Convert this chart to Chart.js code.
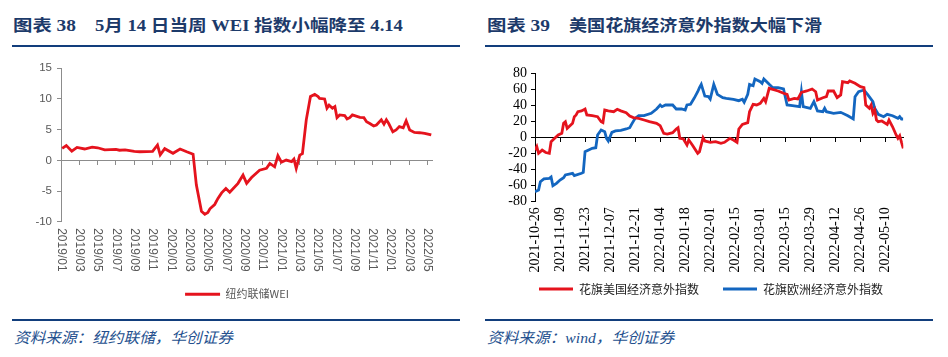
<!DOCTYPE html>
<html><head><meta charset="utf-8">
<script src="https://cdn.jsdelivr.net/npm/chart.js@4.4.0/dist/chart.umd.min.js"></script>
<style>
html,body{margin:0;padding:0;background:#fff;}
#page{position:relative;width:948px;height:357px;overflow:hidden;background:#fff;}
.t{position:absolute;top:16px;display:inline-block;font-weight:bold;font-size:16px;font-family:"Liberation Serif","Noto Sans CJK SC",serif;color:#1C3A6A;white-space:pre;line-height:20px;transform-origin:0 50%;}
.rule{position:absolute;height:2px;background:#123E7C;}
.src{position:absolute;top:328px;display:inline-block;font-style:italic;font-size:15px;font-family:"Liberation Serif","Noto Sans CJK SC",serif;color:#24508E;white-space:pre;line-height:20px;transform-origin:0 50%;}
canvas{position:absolute;top:50px;}
</style></head>
<body><div id="page">
<span class="t" style="left:13px" data-w="63">图表 38</span>
<span class="t" style="left:95px" data-w="308">5月 14 日当周 WEI 指数小幅降至 4.14</span>
<span class="t" style="left:487px" data-w="63">图表 39</span>
<span class="t" style="left:569px" data-w="253">美国花旗经济意外指数大幅下滑</span>
<div class="rule" style="left:12px;top:45px;width:448px"></div>
<div class="rule" style="left:485px;top:45px;width:448px"></div>
<canvas id="c1" width="474" height="265" style="left:0"></canvas>
<canvas id="c2" width="474" height="265" style="left:474px"></canvas>
<div class="rule" style="left:12px;top:319px;width:448px"></div>
<div class="rule" style="left:485px;top:319px;width:448px"></div>
<span class="src" style="left:14px" data-w="219">资料来源：纽约联储，华创证券</span>
<span class="src" style="left:487px" data-w="187">资料来源：wind，华创证券</span>
</div>
<script>
// ---------- Chart 38: NY Fed Weekly Economic Index ----------
const weiDates = [
 '2019-01-05','2019-01-19','2019-02-06','2019-02-22','2019-03-19','2019-04-13','2019-05-01','2019-05-25',
 '2019-07-01','2019-07-13','2019-08-01','2019-09-01','2019-09-19','2019-11-01','2019-11-17','2019-11-26',
 '2019-12-11','2020-01-08','2020-02-01','2020-02-22','2020-03-14','2020-03-25','2020-04-11','2020-04-22',
 '2020-05-02','2020-05-09','2020-05-25','2020-06-05','2020-06-17','2020-07-01','2020-07-14','2020-08-11',
 '2020-08-28','2020-09-09','2020-09-25','2020-10-22','2020-11-14','2020-11-25','2020-12-11','2020-12-22',
 '2021-01-03','2021-01-19','2021-02-06','2021-02-13','2021-02-20','2021-03-03','2021-03-12','2021-03-25',
 '2021-04-08','2021-04-22','2021-05-03','2021-05-08','2021-05-25','2021-06-02','2021-06-09','2021-06-20',
 '2021-06-28','2021-07-05','2021-07-14','2021-07-31','2021-08-08','2021-08-17','2021-08-26','2021-09-20',
 '2021-10-03','2021-10-12','2021-10-23','2021-11-05','2021-11-14','2021-11-30','2021-12-09','2021-12-17',
 '2021-12-25','2022-01-08','2022-01-19','2022-01-30','2022-02-11','2022-02-20','2022-03-03','2022-03-19',
 '2022-04-05','2022-04-22','2022-05-14'];
const weiValues = [
 1.95,2.4,1.5,2.1,1.85,2.15,2.05,1.7,
 1.8,1.65,1.7,1.45,1.4,1.45,2.5,0.9,
 1.9,1.15,1.85,1.4,1.0,-4.0,-8.3,-8.8,
 -8.5,-7.9,-7.2,-6.2,-5.3,-4.6,-5.2,-3.75,
 -2.4,-3.75,-2.8,-1.6,-1.3,-0.5,-1.05,0.75,
 -0.3,0.05,-0.2,0.2,-1.3,0.85,1.1,6.6,
 10.4,10.75,10.4,10.1,10.0,8.5,9.0,8.5,
 8.75,6.95,7.4,7.3,6.75,6.95,7.4,7.0,
 6.95,6.3,6.0,5.6,5.75,6.6,5.9,6.6,
 6.0,4.65,4.95,5.5,5.3,6.45,4.95,4.55,
 4.5,4.4,4.14];
const weiTickLabels = ['2019/01','2019/03','2019/05','2019/07','2019/09','2019/11',
 '2020/01','2020/03','2020/05','2020/07','2020/09','2020/11',
 '2021/01','2021/03','2021/05','2021/07','2021/09','2021/11',
 '2022/01','2022/03','2022/05'];
const weiLabel = '纽约联储WEI';

// ---------- Chart 39: Citi Economic Surprise Index ----------
const usLabel = '花旗美国经济意外指数';
const euLabel = '花旗欧洲经济意外指数';
const usDates = [
 '2021-10-26','2021-10-27','2021-10-28','2021-10-30','2021-11-01','2021-11-03','2021-11-04','2021-11-06',
 '2021-11-08','2021-11-10','2021-11-11','2021-11-12','2021-11-13','2021-11-15','2021-11-16','2021-11-17',
 '2021-11-18','2021-11-19','2021-11-21','2021-11-23','2021-11-24','2021-11-27','2021-11-30','2021-12-02',
 '2021-12-03','2021-12-04','2021-12-06','2021-12-09','2021-12-11','2021-12-13','2021-12-16','2021-12-18',
 '2021-12-20','2021-12-23','2021-12-26','2021-12-29','2022-01-02','2022-01-04','2022-01-06','2022-01-08',
 '2022-01-11','2022-01-13','2022-01-14','2022-01-15','2022-01-17','2022-01-19','2022-01-20','2022-01-22',
 '2022-01-25','2022-01-26','2022-01-28','2022-01-29','2022-02-01','2022-02-04','2022-02-07','2022-02-09',
 '2022-02-12','2022-02-14','2022-02-16','2022-02-17','2022-02-19','2022-02-22','2022-02-23','2022-02-25',
 '2022-02-27','2022-03-01','2022-03-03','2022-03-04','2022-03-06','2022-03-08','2022-03-11','2022-03-14',
 '2022-03-16','2022-03-17','2022-03-20','2022-03-22','2022-03-24','2022-03-27','2022-03-30','2022-04-01',
 '2022-04-02','2022-04-05','2022-04-07','2022-04-08','2022-04-11','2022-04-13','2022-04-15','2022-04-16',
 '2022-04-19','2022-04-20','2022-04-23','2022-04-26','2022-04-28','2022-04-29','2022-05-01','2022-05-02',
 '2022-05-03','2022-05-04','2022-05-05','2022-05-06','2022-05-08','2022-05-11','2022-05-12','2022-05-14',
 '2022-05-16','2022-05-17','2022-05-18','2022-05-19','2022-05-20'];
const usValues = [
 -16,-11.7,-20,-16,-19,-20,-5.5,-1.3,
 2.9,5,17.5,19.5,11.2,15.4,17.5,25.8,
 27.9,32,33,35.4,27.9,27,25.8,19.5,
 18.3,34.1,33,32,35,33,30.8,26.6,
 24.6,23.7,21.6,19.5,17.5,14.5,5,4.1,
 5.8,10.4,12,-1.3,-2.1,-9.6,-3.4,-9.6,
 -20,-18,-0.5,-4.6,-6.3,-5.5,-7.5,-6.3,
 -1.3,-3.4,-6.3,10.4,16.2,18.3,32,41.2,
 40.4,42.5,48.7,44.5,61.2,60,57.9,55,
 53.7,46.6,48.7,47.9,56.2,57.9,60.4,57,
 46.6,49.5,50.8,57.9,57.9,49.5,52.9,69.5,
 68.3,70.4,67.5,63.3,62,40.4,36.2,40.4,
 30,34.1,21.6,19.5,20.4,16.2,21.6,13.2,
 2.9,-1.3,2,-6.3,-13.8];
const euDates = [
 '2021-10-26','2021-10-28','2021-10-29','2021-10-31','2021-11-03','2021-11-04','2021-11-05','2021-11-07',
 '2021-11-09','2021-11-11','2021-11-12','2021-11-16','2021-11-17','2021-11-21','2021-11-22','2021-11-23',
 '2021-11-25','2021-11-27','2021-11-29','2021-11-30','2021-12-02','2021-12-04','2021-12-05','2021-12-06',
 '2021-12-08','2021-12-10','2021-12-13','2021-12-16','2021-12-18','2021-12-19','2021-12-21','2021-12-23',
 '2021-12-26','2021-12-30','2022-01-02','2022-01-04','2022-01-05','2022-01-07','2022-01-11','2022-01-13',
 '2022-01-16','2022-01-18','2022-01-19','2022-01-21','2022-01-23','2022-01-25','2022-01-26','2022-01-27',
 '2022-01-29','2022-01-31','2022-02-01','2022-02-03','2022-02-05','2022-02-08','2022-02-10','2022-02-14',
 '2022-02-17','2022-02-19','2022-02-20','2022-02-22','2022-02-23','2022-02-25','2022-02-26','2022-03-01',
 '2022-03-02','2022-03-03','2022-03-06','2022-03-08','2022-03-11','2022-03-14','2022-03-16','2022-03-19',
 '2022-03-23','2022-03-24','2022-03-25','2022-03-29','2022-03-31','2022-04-02','2022-04-05','2022-04-06',
 '2022-04-07','2022-04-11','2022-04-15','2022-04-19','2022-04-22','2022-04-23','2022-04-25','2022-04-28',
 '2022-04-30','2022-05-03','2022-05-04','2022-05-06','2022-05-09','2022-05-11','2022-05-14','2022-05-17',
 '2022-05-18','2022-05-19','2022-05-20'];
const euValues = [
 -68,-66,-55.5,-52,-51.3,-49.6,-60.5,-57.5,
 -53.4,-50.5,-47,-45,-48,-45,-43.8,-18,
 -15.9,-13.8,-13,2.9,9.1,7,-1.3,-4.6,
 6.2,7.9,8.7,10.4,12,16.2,23.7,27,
 27,30,35.4,40.4,38.3,40.4,40.4,35.4,
 35.4,34.1,40.4,41.2,48.7,57,62,66.2,
 51.5,50.8,47.9,66.2,53.7,49.5,48.7,47.5,
 45.8,47.5,43.8,53.7,66.2,64.5,72.9,69.5,
 67.5,72.9,66.2,62,62,60.4,40.4,39.5,
 38.3,57,38.3,36.2,44.5,32.9,32,36.2,
 32,30,31.2,27,22.9,50.8,57,59.1,
 53.7,44.5,36.2,28.7,25.8,28.7,27,23.7,
 25.8,22.9,22.9];
const citiTickLabels = ['2021-10-26','2021-11-09','2021-11-23','2021-12-07','2021-12-21',
 '2022-01-04','2022-01-18','2022-02-01','2022-02-15','2022-03-01','2022-03-15',
 '2022-03-29','2022-04-12','2022-04-26','2022-05-10'];

// ---------- helpers ----------
const RED = '#E5131D', BLUE = '#1366C0', GRAYAX = '#8C8C8C', GRAYTX = '#595959';
const SANS = '"Liberation Sans", Arial, sans-serif';
const SERIF = '"Liberation Serif", "Times New Roman", serif';
const CJK = '"Noto Sans CJK SC", "Liberation Sans", sans-serif';
function monthOffset(s){const [y,m,d]=s.split('-').map(Number);const dim=new Date(Date.UTC(y,m,0)).getUTCDate();return (y-2019)*12+(m-1)+(d-1)/dim;}
function dayOffset(s){const [y,m,d]=s.split('-').map(Number);return Math.round((Date.UTC(y,m-1,d)-Date.UTC(2021,9,26))/864e5);}
const noStroke = chart => Chart.defaults.plugins.legend.labels.generateLabels(chart).map(l => Object.assign(l, {lineWidth: 0}));

// Vertical x-axis labels drawn at the x scale's own tick pixels (not clipped to the axis box).
function verticalLabels(labels, step, font, color, pad, clockwise){
  return {
    id: 'verticalLabels',
    afterDraw(chart){
      const s = chart.scales.x, ctx = chart.ctx;
      ctx.save();
      ctx.font = font; ctx.fillStyle = color; ctx.textBaseline = 'middle';
      ctx.textAlign = clockwise ? 'left' : 'right';
      s.ticks.forEach(t => {
        const px = s.getPixelForValue(t.value);
        ctx.save(); ctx.translate(px, s.top + pad); ctx.rotate(clockwise ? Math.PI/2 : -Math.PI/2);
        ctx.fillText(labels[Math.round(t.value/step)], 0, 0);
        ctx.restore();
      });
      ctx.restore();
    }
  };
}
// invisible right-hand spacer so that the legend stays centred on the whole panel
const spacer = w => ({ type: 'linear', position: 'right', display: true, grid: { display: false, drawTicks: false },
  border: { display: false }, ticks: { display: false }, afterFit: s => { s.width = w; } });

new Chart(document.getElementById('c1'), {
  type: 'line',
  data: { datasets: [{ label: weiLabel,
    data: weiDates.map((d,i)=>({x: monthOffset(d), y: weiValues[i]})),
    borderColor: RED, backgroundColor: RED, borderWidth: 2.8, pointRadius: 0, tension: 0, xAxisID: 'x', yAxisID: 'y' }] },
  options: {
    responsive: false, animation: false, devicePixelRatio: 1,
    layout: { padding: { top: 18.3, right: 0, bottom: 5.2, left: 0 } },
    plugins: {
      tooltip: { enabled: false },
      legend: { position: 'bottom', labels: { boxWidth: 35, boxHeight: 3, padding: 20, color: GRAYTX,
        font: { size: 11, family: CJK }, generateLabels: noStroke } }
    },
    scales: {
      x: { type: 'linear', min: 0, max: 40.5, grid: { display: false, drawTicks: false }, border: { display: false },
        ticks: { stepSize: 2, includeBounds: false, autoSkip: false, minRotation: 90, maxRotation: 90, padding: 7,
          color: 'rgba(0,0,0,0)', font: { size: 12, family: SANS }, callback: v => weiTickLabels[Math.round(v/2)] },
        afterFit: s => { s.height = 47.1; } },
      x0: { type: 'linear', axis: 'x', position: { y: 0 }, min: 0, max: 40.5,
        ticks: { display: false, stepSize: 2, includeBounds: false },
        grid: { drawOnChartArea: false, tickLength: 4, color: GRAYAX }, border: { color: GRAYAX } },
      y: { min: -10, max: 15, ticks: { stepSize: 5, autoSkip: false, color: GRAYTX, font: { size: 11.5, family: SANS }, padding: 5 },
        grid: { drawOnChartArea: false, tickLength: 4, color: GRAYAX }, border: { color: GRAYAX },
        afterFit: s => { s.width = 61; } },
      yR: spacer(42)
    }
  },
  plugins: [verticalLabels(weiTickLabels, 2, '12px ' + SANS, GRAYTX, 6.5, true)]
});

new Chart(document.getElementById('c2'), {
  type: 'line',
  data: { datasets: [
    { label: usLabel, data: usDates.map((d,i)=>({x: dayOffset(d), y: usValues[i]})),
      borderColor: RED, backgroundColor: RED, borderWidth: 2.8, pointRadius: 0, tension: 0, yAxisID: 'y' },
    { label: euLabel, data: euDates.map((d,i)=>({x: dayOffset(d), y: euValues[i]})),
      borderColor: BLUE, backgroundColor: BLUE, borderWidth: 2.8, pointRadius: 0, tension: 0, yAxisID: 'y' }
  ] },
  options: {
    responsive: false, animation: false, devicePixelRatio: 1,
    layout: { padding: { top: 23.3, right: 0, bottom: 10, left: 0 } },
    plugins: {
      tooltip: { enabled: false },
      legend: { position: 'bottom', labels: { boxWidth: 34, boxHeight: 3, padding: 24, color: '#222',
        font: { size: 12, family: CJK }, generateLabels: noStroke } }
    },
    scales: {
      x: { type: 'linear', min: 0, max: 206, grid: { display: false, drawTicks: false }, border: { display: false },
        ticks: { stepSize: 14, includeBounds: false, autoSkip: false, minRotation: 90, maxRotation: 90, padding: 6,
          color: 'rgba(0,0,0,0)', font: { size: 14, family: SERIF }, callback: v => citiTickLabels[Math.round(v/14)] },
        afterFit: s => { s.height = 57.7; } },
      x0: { type: 'linear', axis: 'x', position: { y: 0 }, min: 0, max: 206,
        ticks: { display: false, stepSize: 14, includeBounds: false },
        grid: { drawOnChartArea: false, tickLength: 4, color: '#000' }, border: { color: '#000' } },
      y: { min: -80, max: 80, ticks: { stepSize: 20, autoSkip: false, color: '#000', font: { size: 14, family: SERIF }, padding: 4 },
        grid: { drawOnChartArea: false, tickLength: 4, color: '#000' }, border: { color: '#000' },
        afterFit: s => { s.width = 61; } },
      yR: spacer(44.7)
    }
  },
  plugins: [verticalLabels(citiTickLabels, 14, '14px ' + SERIF, '#000', 6, false)]
});

function fitText(){
  document.querySelectorAll('[data-w]').forEach(el => {
    el.style.transform = 'none';
    const w = el.offsetWidth;
    if (w > 0) el.style.transform = 'scaleX(' + (Number(el.dataset.w) / w) + ')';
  });
}
fitText();
if (document.fonts && document.fonts.ready) document.fonts.ready.then(fitText);
</script>
</body></html>
